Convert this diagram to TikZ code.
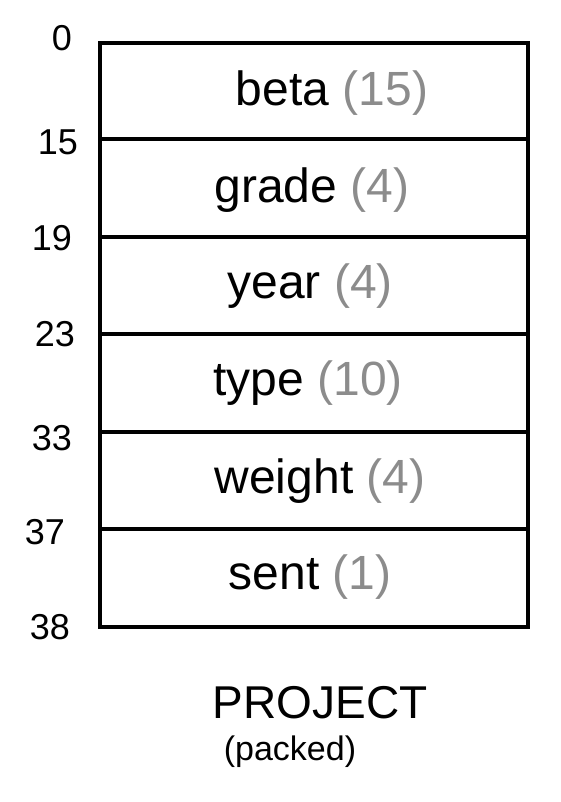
\documentclass[tikz,border=0pt]{standalone}
\usepackage{fontspec}
\setmainfont{Liberation Sans}
\definecolor{sizegray}{RGB}{140,140,140}
\tikzset{
  field/.style={font=\fontsize{48}{54}\selectfont},
  offset/.style={font=\fontsize{36}{42}\selectfont},
  rule/.style={line width=3.5pt},
}
\newcommand{\fsize}[1]{\textcolor{sizegray}{(#1)}}
\begin{document}
\begin{tikzpicture}[x=1pt,y=-1pt]
    \useasboundingbox (0,0) rectangle (560,802);
    \coordinate (top) at (100,43);
    \coordinate (bottom) at (528,627);
    \draw [rule] (top) rectangle (bottom);
    \draw [rule] (100,139) -- (528,139);
    \draw [rule] (100,237) -- (528,237);
    \draw [rule] (100,334) -- (528,334);
    \draw [rule] (100,432) -- (528,432);
    \draw [rule] (100,529) -- (528,529);

    \node[offset] (o0) at (62,38) {0};
    \node[offset] (o15) at (58,142) {15};
    \node[offset] (o19) at (52,238) {19};
    \node[offset] (o23) at (55,334) {23};
    \node[offset] (o33) at (52,438) {33};
    \node[offset] (o37) at (45,532) {37};
    \node[offset] (o38) at (50,627) {38};

    \node[field] (beta) at (332,93) {beta \fsize{15}};
    \node[field] (grade) at (312,190) {grade \fsize{4}};
    \node[field] (year) at (310,286) {year \fsize{4}};
    \node[field] (type) at (308,383) {type \fsize{10}};
    \node[field] (weight) at (320,481) {weight \fsize{4}};
    \node[field] (sent) at (310,577) {sent \fsize{1}};

    \node[font=\fontsize{46}{52}\selectfont] (project) at (320,703) {PROJECT};
    \node[font=\fontsize{34}{40}\selectfont] (packed) at (290,752) {(packed)};
\end{tikzpicture}
\end{document}
